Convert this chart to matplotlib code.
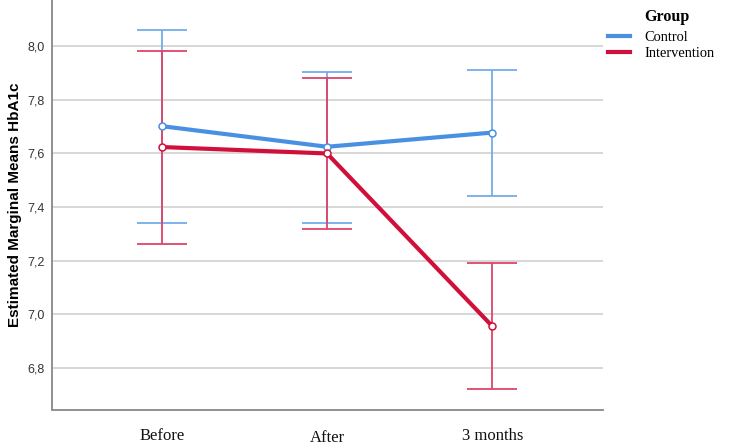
import numpy as np
import matplotlib
matplotlib.use("Agg")
import matplotlib.pyplot as plt
import matplotlib.transforms as mtransforms
from matplotlib.ticker import FuncFormatter

# Estimated marginal means of HbA1c with 95% CI
times = ["Before", "After", "3 months"]
groups = ["Control", "Intervention"]

control_mean = [7.702, 7.625, 7.678]
control_low = [7.341, 7.342, 7.441]
control_high = [8.060, 7.905, 7.913]

interv_mean = [7.624, 7.600, 6.955]
interv_low = [7.263, 7.317, 6.720]
interv_high = [7.982, 7.880, 7.190]

yticks = [6.8, 7.0, 7.2, 7.4, 7.6, 7.8, 8.0]

blue = "#4A90E2"
red = "#D0103A"
blue_err = "#74ABEC"
red_err = "#DE4466"

fig = plt.figure(figsize=(7.5, 4.45), dpi=100)
ax = fig.add_axes([52 / 750, 1 - 409.5 / 445, (603 - 52) / 750, 409.5 / 445])

x = np.arange(len(times))
series = [
    (control_mean, control_low, control_high, blue, blue_err),
    (interv_mean, interv_low, interv_high, red, red_err),
]
for mean, low, high, c, ec in series:
    mean = np.array(mean)
    yerr = [mean - np.array(low), np.array(high) - mean]
    ax.errorbar(x, mean, yerr=yerr, fmt="none", ecolor=ec, elinewidth=1.3,
                capsize=18, capthick=1.3, zorder=3)
    ax.plot(x, mean, color=c, lw=3, zorder=4)
    ax.plot(x, mean, "o", ms=5, mfc="white", mec=c, mew=1.1, zorder=5)

ax.set_xlim(-0.664, 2.67)
ax.set_ylim(6.644, 8.173)
ax.set_yticks(yticks)
ax.yaxis.set_major_formatter(FuncFormatter(lambda v, p: f"{v:.1f}".replace(".", ",")))
ax.set_xticks(x)
ax.set_xticklabels(times, family="Liberation Serif", fontsize=12)
ax.tick_params(axis="both", length=0)
ax.tick_params(axis="y", labelsize=9, labelcolor="#333333", pad=5)
ax.tick_params(axis="x", pad=13, labelcolor="#111111")
for lab in ax.get_yticklabels():
    lab.set_family("Liberation Sans")

# the "After" label sits slightly lower in the original
lbl = ax.get_xticklabels()[1]
lbl.set_transform(lbl.get_transform() + mtransforms.ScaledTranslation(0, -2 / 100, fig.dpi_scale_trans))

ax.grid(axis="y", color="#d4d4d4", lw=1.3)
ax.set_axisbelow(True)
for s in ["top", "right"]:
    ax.spines[s].set_visible(False)
for s in ["left", "bottom"]:
    ax.spines[s].set_color("#888888")
    ax.spines[s].set_linewidth(1.3)

ax.set_ylabel("Estimated Marginal Means HbA1c", family="Liberation Sans",
              fontweight="bold", fontsize=11, labelpad=4)

# legend
fig.text(644 / 750, 1 - 17 / 445, "Group", family="Liberation Serif",
         fontweight="bold", fontsize=11.5, va="center", ha="left")
handles = [plt.Line2D([], [], color=blue, lw=3), plt.Line2D([], [], color=red, lw=3)]
fig.legend(handles, groups, loc="upper left", bbox_to_anchor=(598 / 750, 1 - 21 / 445),
           frameon=False, prop={"family": "Liberation Serif", "size": 10.4},
           handlelength=1.5, handletextpad=1.0, labelspacing=0.2, borderpad=0.2)

fig.savefig("out.png", dpi=100)
